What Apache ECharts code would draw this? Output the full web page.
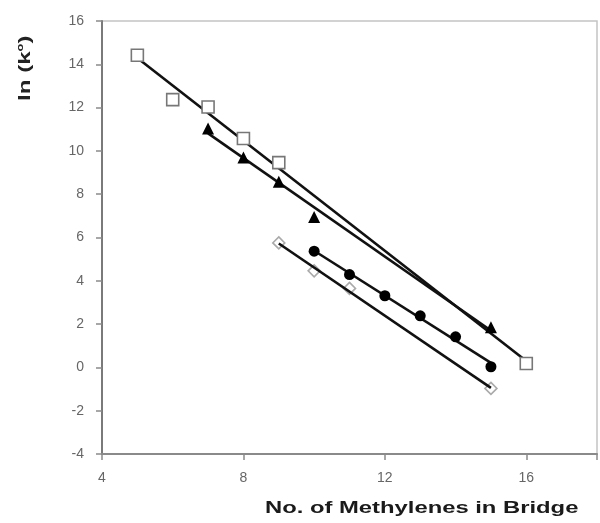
<!DOCTYPE html>
<html>
<head>
<meta charset="utf-8">
<script src="https://cdn.jsdelivr.net/npm/echarts@6/dist/echarts.min.js"></script>
<style>
  html, body { margin: 0; padding: 0; background: #fff; }
  #chart { width: 600px; height: 523px; }
</style>
</head>
<body>
<div id="chart"></div>
<script>
// Rate constants vs. bridge length, four bridge families
const squareX = [5, 6, 7, 8, 9, 16];
const squareY = [14.42, 12.37, 12.03, 10.57, 9.46, 0.18];

const triangleX = [7, 8, 9, 10, 15];
const triangleY = [11.03, 9.70, 8.57, 6.95, 1.86];

const circleX = [10, 11, 12, 13, 14, 15];
const circleY = [5.37, 4.29, 3.31, 2.38, 1.41, 0.03];

const diamondX = [9, 10, 11, 15];
const diamondY = [5.75, 4.46, 3.65, -0.97];

const xTicks = [4, 8, 12, 16];
const yTicks = [-4, -2, 0, 2, 4, 6, 8, 10, 12, 14, 16];

function pairs(xs, ys) { return xs.map((x, i) => [x, ys[i]]); }

// least-squares trend line spanning the series' own x range
function trend(xs, ys) {
  const n = xs.length;
  const mx = xs.reduce((a, b) => a + b, 0) / n;
  const my = ys.reduce((a, b) => a + b, 0) / n;
  let sxy = 0, sxx = 0;
  for (let i = 0; i < n; i++) {
    sxy += (xs[i] - mx) * (ys[i] - my);
    sxx += (xs[i] - mx) * (xs[i] - mx);
  }
  const b = sxy / sxx, a = my - b * mx;
  const x0 = Math.min(...xs), x1 = Math.max(...xs);
  return [[x0, a + b * x0], [x1, a + b * x1]];
}

function trendSeries(xs, ys) {
  return {
    type: 'line', data: trend(xs, ys), symbol: 'none', z: 2,
    lineStyle: { color: '#111', width: 2.6 }, silent: true
  };
}

const chart = echarts.init(document.getElementById('chart'), null, { renderer: 'canvas' });

const tickFont = { color: '#666', fontSize: 14, fontFamily: 'Liberation Sans, Arial, sans-serif' };

chart.setOption({
  animation: false,
  grid: { left: 102, right: 2, top: 21, bottom: 69, show: true, borderColor: '#c4c4c4', borderWidth: 1.5 },
  xAxis: {
    type: 'value', min: 4, max: 18, interval: 4,
    axisLine: { show: true, onZero: false, lineStyle: { color: '#8a8a8a', width: 2 } },
    axisTick: { show: true, length: 6, lineStyle: { color: '#8a8a8a', width: 1.5 } },
    axisLabel: Object.assign({ margin: 17, formatter: v => xTicks.includes(v) ? String(v) : '' }, tickFont),
    splitLine: { show: false }
  },
  yAxis: {
    type: 'value', min: -4, max: 16, interval: 2,
    axisLine: { show: true, onZero: false, lineStyle: { color: '#7a7a7a', width: 2 } },
    axisTick: { show: true, length: 6, lineStyle: { color: '#8a8a8a', width: 1.5 } },
    axisLabel: Object.assign({ margin: 18, formatter: v => yTicks.includes(v) ? String(v) : '' }, tickFont),
    splitLine: { show: false }
  },
  graphic: [
    {
      type: 'text', x: 16, y: 101, rotation: Math.PI / 2, scaleX: 1.42,
      style: {
        text: 'ln (k{s|o})',
        font: 'bold 17px "Liberation Sans", Arial, sans-serif',
        fill: '#222',
        rich: { s: { fontSize: 9, fontWeight: 'bold', verticalAlign: 'top', padding: [0, 0, 9, 0], fill: '#222' } }
      }
    },
    {
      type: 'text', x: 265, y: 500, scaleX: 1.4,
      style: {
        text: 'No. of Methylenes in Bridge',
        font: 'bold 17px "Liberation Sans", Arial, sans-serif',
        fill: '#1a1a1a'
      }
    }
  ],
  series: [
    trendSeries(squareX, squareY),
    trendSeries(triangleX, triangleY),
    trendSeries(circleX, circleY),
    trendSeries(diamondX, diamondY),
    {
      type: 'scatter', data: pairs(squareX, squareY), symbol: 'rect', symbolSize: 12, z: 3,
      itemStyle: { color: '#fff', borderColor: '#777', borderWidth: 1.6, opacity: 1 }
    },
    {
      type: 'scatter', data: pairs(triangleX, triangleY), symbol: 'triangle', symbolSize: 12, z: 3,
      itemStyle: { color: '#000', opacity: 1 }
    },
    {
      type: 'scatter', data: pairs(circleX, circleY), symbol: 'circle', symbolSize: 11, z: 3,
      itemStyle: { color: '#000', opacity: 1 }
    },
    {
      type: 'scatter', data: pairs(diamondX, diamondY), symbol: 'diamond', symbolSize: 12, z: 1,
      itemStyle: { color: '#fff', borderColor: '#aaa', borderWidth: 1.6, opacity: 1 }
    }
  ]
});
</script>
</body>
</html>
